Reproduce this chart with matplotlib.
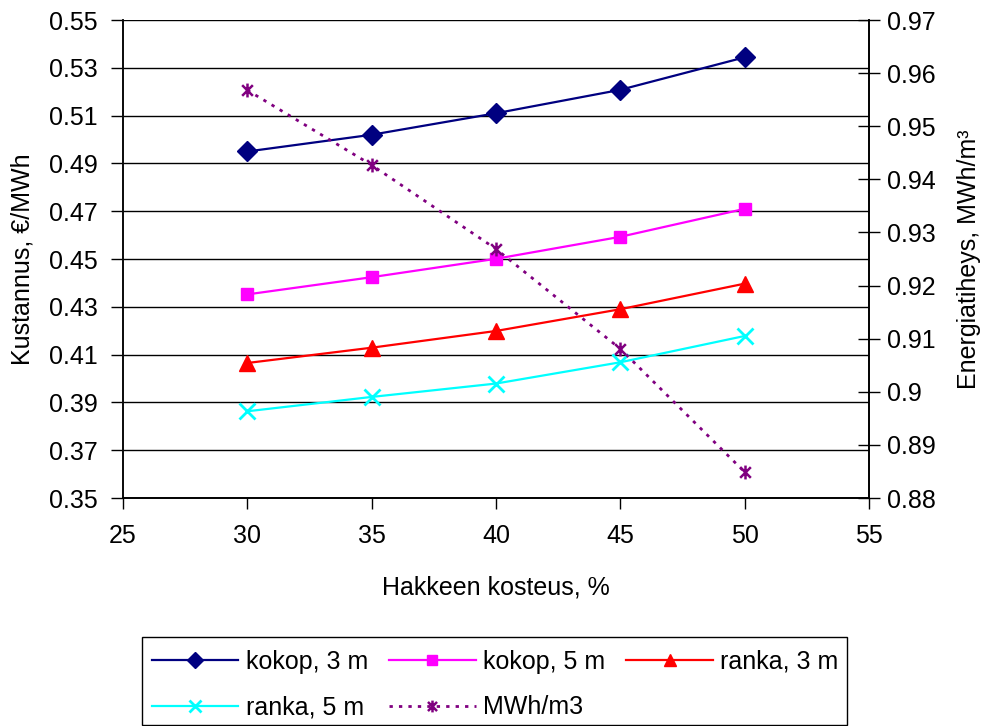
import matplotlib
matplotlib.use("Agg")
import matplotlib.pyplot as plt
from matplotlib.path import Path
from matplotlib.patches import Rectangle

plt.rcParams['font.family'] = ['Liberation Sans', 'DejaVu Sans']

# data
kosteus = [30, 35, 40, 45, 50]
kokop_3m = [0.4950, 0.5020, 0.5110, 0.5208, 0.5344]
kokop_5m = [0.4352, 0.4424, 0.4501, 0.4593, 0.4710]
ranka_3m = [0.4065, 0.4129, 0.4199, 0.4290, 0.4397]
ranka_5m = [0.3863, 0.3923, 0.3979, 0.4068, 0.4178]
mwh_m3 = [0.9568, 0.9427, 0.9269, 0.9081, 0.8849]

left_ticks = [0.35, 0.37, 0.39, 0.41, 0.43, 0.45, 0.47, 0.49, 0.51, 0.53, 0.55]
right_ticks = [0.88, 0.89, 0.90, 0.91, 0.92, 0.93, 0.94, 0.95, 0.96, 0.97]
right_labels = ["0.88", "0.89", "0.9", "0.91", "0.92", "0.93", "0.94", "0.95", "0.96", "0.97"]
x_ticks = [25, 30, 35, 40, 45, 50, 55]

fs = 18

# excel style star marker: x with a vertical bar
star = Path([(-1, -1), (1, 1), (-1, 1), (1, -1), (0, -1.3), (0, 1.3)],
            [Path.MOVETO, Path.LINETO, Path.MOVETO, Path.LINETO, Path.MOVETO, Path.LINETO])

fig = plt.figure(figsize=(9.86, 7.26), dpi=100)
ax = fig.add_axes([0.1247, 0.314, 0.7566, 0.6584])
ax2 = ax.twinx()

h1, = ax.plot(kosteus, kokop_3m, color='#000080', lw=1.6, marker='D', ms=10, label='kokop, 3 m')
h2, = ax.plot(kosteus, kokop_5m, color='#FF00FF', lw=1.6, marker='s', ms=9, label='kokop, 5 m')
h3, = ax.plot(kosteus, ranka_3m, color='#FF0000', lw=1.6, marker='^', ms=11, label='ranka, 3 m')
h4, = ax.plot(kosteus, ranka_5m, color='#00FFFF', lw=1.6, marker='x', ms=11, mew=2, label='ranka, 5 m')
h5, = ax2.plot(kosteus, mwh_m3, color='#800080', lw=2, ls=(0, (1.2, 2.2)), marker=star,
               ms=10, mew=1.8, mfc='none', label='MWh/m3')

ax.set_xlim(25, 55)
ax.set_ylim(0.35, 0.55)
ax2.set_ylim(0.88, 0.97)
ax.set_xticks(x_ticks)
ax.set_yticks(left_ticks)
ax.set_yticklabels([f"{v:.2f}" for v in left_ticks])
ax2.set_yticks(right_ticks)
ax2.set_yticklabels(right_labels)

ax.grid(axis='y', color='black', lw=1)
ax.set_axisbelow(True)
ax.spines['top'].set_visible(False)
ax2.spines['top'].set_visible(False)
for a in (ax, ax2):
    for sp in a.spines.values():
        sp.set_linewidth(1.2)
ax.spines['left'].set_color('#404040')

ax.tick_params(axis='y', direction='out', length=9, width=1, pad=9, labelsize=fs)
ax.tick_params(axis='x', direction='out', length=8, width=1, pad=11, labelsize=fs)
ax2.tick_params(axis='y', direction='inout', length=16, width=1, pad=5, labelsize=fs)

ax.set_xlabel("Hakkeen kosteus, %", fontsize=fs)
ax.set_ylabel("Kustannus, €/MWh", fontsize=fs)
ax2.set_ylabel("Energiatiheys, MWh/m³", fontsize=fs)
ax.xaxis.set_label_coords(0.5, -0.163)
ax.yaxis.set_label_coords(-0.118, 0.5)
ax2.yaxis.set_label_coords(1.118, 0.5)

# legend box drawn by hand, legend entries placed inside it
fig.patches.append(Rectangle((142 / 986, 1 - 725 / 726), 705 / 986, 88 / 726,
                             transform=fig.transFigure,
                             facecolor='white', edgecolor='black', lw=1))
handles = [h1, h4, h2, h5, h3]   # reorder so it fills row by row
leg = fig.legend(handles, [h.get_label() for h in handles], ncol=3, loc='upper left',
                 bbox_to_anchor=(152 / 986, 1 - 650 / 726), borderaxespad=0, borderpad=0,
                 fontsize=fs, handlelength=3.45, handletextpad=0.3, columnspacing=0.85,
                 labelspacing=0.85, markerscale=0.85, frameon=False)

fig.savefig("out.png", dpi=100)
